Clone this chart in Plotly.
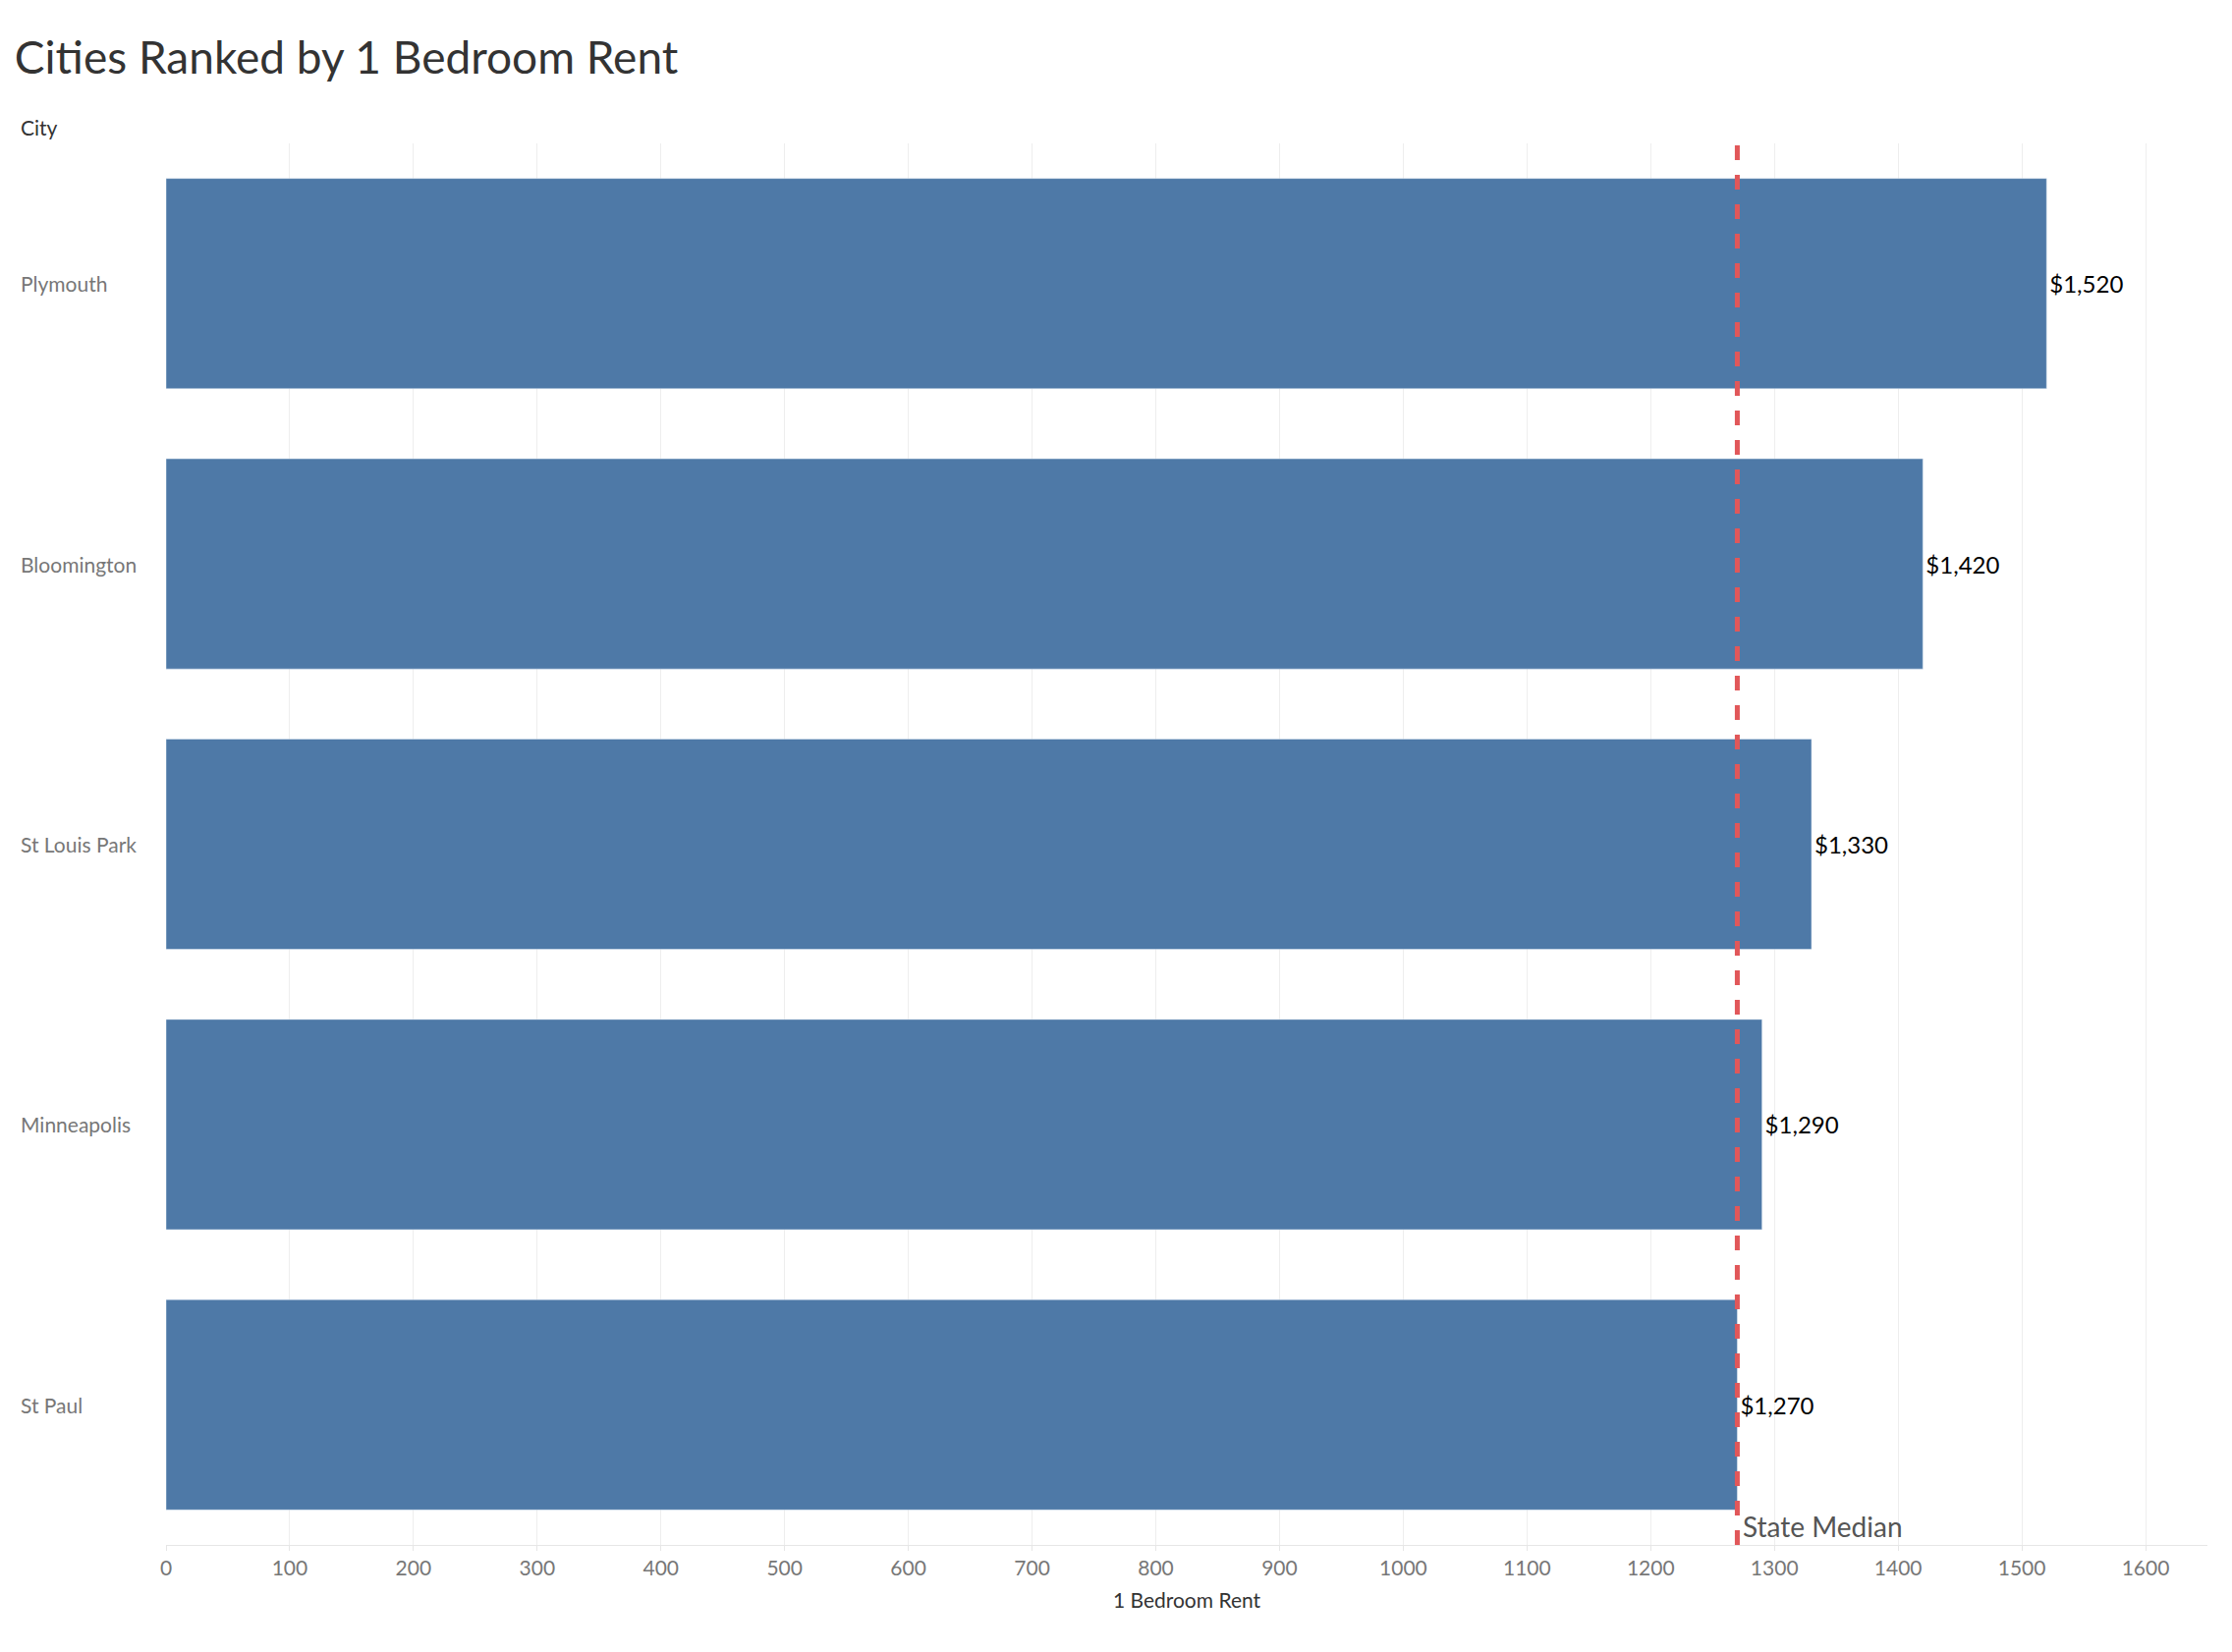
import plotly.graph_objects as go

cities = ["Plymouth", "Bloomington", "St Louis Park", "Minneapolis", "St Paul"]
rent = [1520, 1420, 1330, 1290, 1270]
state_median = 1270
x_ticks = list(range(0, 1700, 100))

fig = go.Figure(go.Bar(
    x=rent, y=cities, orientation="h",
    marker=dict(color="#4e79a7"),
    text=[f"${v:,}" for v in rent], textposition="outside",
    textfont=dict(size=24, color="#000", family="Lato"),
    cliponaxis=False,
))

fig.add_vline(x=state_median, line=dict(color="#e15759", width=5, dash="dash"))
fig.add_annotation(x=state_median, y=0, yref="paper", yanchor="bottom", xanchor="left",
                   text="State Median", showarrow=False, xshift=4,
                   font=dict(size=28, color="#555", family="Lato"))

for c in cities:
    fig.add_annotation(x=0, xref="paper", y=c, xanchor="left", xshift=-150, showarrow=False,
                       text=c, font=dict(size=21, color="#777", family="Lato"))
fig.add_annotation(x=0, xref="paper", y=1, yref="paper", yanchor="bottom", xanchor="left",
                   xshift=-150, yshift=2, showarrow=False, text="City",
                   font=dict(size=21, color="#333", family="Lato"))

fig.update_layout(
    width=2272, height=1682,
    margin=dict(l=161, r=33, t=138, b=117),
    plot_bgcolor="white", paper_bgcolor="white",
    bargap=0.25, showlegend=False,
    title=dict(text="Cities Ranked by 1 Bedroom Rent", x=0.003, y=0.97, yanchor="middle",
               font=dict(size=46, color="#333", family="Lato")),
    xaxis=dict(range=[0, 1650], tickvals=x_ticks, showgrid=True, gridcolor="#eeeeee",
               zeroline=False, tickfont=dict(size=21, color="#777", family="Lato"),
               title=dict(text="1 Bedroom Rent", font=dict(size=21, color="#333", family="Lato")),
               showline=True, linecolor="#e6e6e6", ticks="outside", tickcolor="#e6e6e6"),
    yaxis=dict(autorange="reversed", showticklabels=False, showgrid=False),
)

fig.write_html("out.html")
